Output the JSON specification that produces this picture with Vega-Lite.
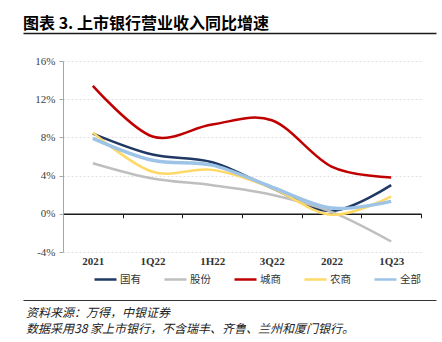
{
  "$schema": "https://vega.github.io/schema/vega-lite/v6.json",
  "padding": {"left": 22, "top": 15, "right": 5, "bottom": 5},
  "background": "white",
  "config": {"view": {"stroke": null}},
  "columns": 1,
  "spacing": 21,
  "concat": [
    {
      "width": 373,
      "height": 0.01,
      "title": {
        "text": "图表 3. 上市银行营业收入同比增速",
        "anchor": "start",
        "frame": "group",
        "dx": -40,
        "font": "Noto Sans CJK SC",
        "fontSize": 16,
        "fontWeight": "bold",
        "color": "#000000",
        "offset": 1
      },
      "data": {"values": [{}]},
      "mark": {"type": "rule", "color": "#1a1a1a"},
      "encoding": {
        "x": {
          "datum": 0,
          "type": "quantitative",
          "scale": {"domain": [0, 1], "range": [-40, 373]},
          "axis": {"orient": "bottom", "title": null, "labels": false, "ticks": false, "grid": false, "domainColor": "#1a1a1a", "domainWidth": 1.5}
        }
      }
    },
    {
      "columns": 1,
      "spacing": 32,
      "concat": [
        {
          "width": 358,
          "height": 191,
          "data": {
            "values": [
              {"类型": "国有", "期间": "2021", "增速": 8.4},
              {"类型": "国有", "期间": "1Q22", "增速": 6.2},
              {"类型": "国有", "期间": "1H22", "增速": 5.4},
              {"类型": "国有", "期间": "3Q22", "增速": 2.7},
              {"类型": "国有", "期间": "2022", "增速": 0.3},
              {"类型": "国有", "期间": "1Q23", "增速": 3.0},
              {"类型": "股份", "期间": "2021", "增速": 5.3},
              {"类型": "股份", "期间": "1Q22", "增速": 3.7},
              {"类型": "股份", "期间": "1H22", "增速": 3.0},
              {"类型": "股份", "期间": "3Q22", "增速": 2.0},
              {"类型": "股份", "期间": "2022", "增速": 0.2},
              {"类型": "股份", "期间": "1Q23", "增速": -2.9},
              {"类型": "城商", "期间": "2021", "增速": 13.4},
              {"类型": "城商", "期间": "1Q22", "增速": 8.1},
              {"类型": "城商", "期间": "1H22", "增速": 9.35},
              {"类型": "城商", "期间": "3Q22", "增速": 9.8},
              {"类型": "城商", "期间": "2022", "增速": 4.95},
              {"类型": "城商", "期间": "1Q23", "增速": 3.8},
              {"类型": "农商", "期间": "2021", "增速": 8.5},
              {"类型": "农商", "期间": "1Q22", "增速": 4.4},
              {"类型": "农商", "期间": "1H22", "增速": 4.6},
              {"类型": "农商", "期间": "3Q22", "增速": 2.7},
              {"类型": "农商", "期间": "2022", "增速": -0.1},
              {"类型": "农商", "期间": "1Q23", "增速": 1.8},
              {"类型": "全部", "期间": "2021", "增速": 7.9},
              {"类型": "全部", "期间": "1Q22", "增速": 5.6},
              {"类型": "全部", "期间": "1H22", "增速": 5.1},
              {"类型": "全部", "期间": "3Q22", "增速": 2.8},
              {"类型": "全部", "期间": "2022", "增速": 0.6},
              {"类型": "全部", "期间": "1Q23", "增速": 1.3}
            ]
          },
          "mark": {"type": "line", "interpolate": "cardinal"},
          "encoding": {
            "x": {
              "field": "期间",
              "type": "nominal",
              "sort": ["2021", "1Q22", "1H22", "3Q22", "2022", "1Q23"],
              "bandPosition": 0.5,
              "scale": {"type": "band", "paddingInner": 0, "paddingOuter": 0},
              "axis": {
                "title": null,
                "offset": -38.2,
                "domainColor": "#1a1a1a",
                "domainWidth": 1.5,
                "tickColor": "#1a1a1a",
                "tickSize": 4,
                "tickWidth": 1,
                "tickBand": "extent",
                "labelAngle": 0,
                "labelPadding": 38,
                "labelFont": "Liberation Serif",
                "labelFontSize": 11,
                "labelFontWeight": "bold",
                "labelColor": "#333333",
                "grid": false
              }
            },
            "y": {
              "field": "增速",
              "type": "quantitative",
              "scale": {"domain": [-4, 16], "nice": false, "zero": false},
              "axis": {
                "title": null,
                "values": [-4, 0, 4, 8, 12, 16],
                "labelExpr": "datum.value + '%'",
                "domainColor": "#a6a6a6",
                "tickColor": "#a6a6a6",
                "tickSize": 4,
                "labelPadding": 4,
                "minExtent": 40,
                "labelFont": "Liberation Serif",
                "labelFontSize": 11,
                "labelColor": "#404040",
                "gridColor": "#d9d9d9",
                "gridDash": [2, 2],
                "gridWidth": 0.8
              }
            },
            "color": {
              "field": "类型",
              "type": "nominal",
              "sort": ["国有", "股份", "城商", "农商", "全部"],
              "scale": {
                "domain": ["国有", "股份", "城商", "农商", "全部"],
                "range": ["#1F3864", "#BFBFBF", "#C00000", "#FFD966", "#9DC3E6"]
              },
              "legend": {
                "orient": "none",
                "legendX": 30,
                "legendY": 234,
                "direction": "horizontal",
                "title": null,
                "symbolType": "stroke",
                "symbolSize": 484,
                "symbolStrokeWidth": 2.5,
                "labelFont": "Noto Sans CJK SC",
                "labelFontSize": 10.5,
                "labelColor": "#333333",
                "labelOffset": 2,
                "columnPadding": 18
              }
            },
            "strokeWidth": {
              "condition": {"test": "datum['类型'] === '全部'", "value": 3.5},
              "value": 2.5
            }
          }
        },
        {
          "width": 373,
          "height": 0.01,
          "title": {
            "text": ["资料来源：万得，中银证券", "数据采用38 家上市银行，不含瑞丰、齐鲁、兰州和厦门银行。"],
            "orient": "bottom",
            "anchor": "start",
            "frame": "group",
            "dx": -37,
            "font": "Noto Sans CJK SC",
            "fontSize": 12,
            "fontStyle": "italic",
            "fontWeight": "normal",
            "color": "#222222",
            "lineHeight": 16.5,
            "offset": 7
          },
          "data": {"values": [{}]},
          "mark": {"type": "rule", "color": "#333333"},
          "encoding": {
            "x": {
              "datum": 0,
              "type": "quantitative",
              "scale": {"domain": [0, 1], "range": [-40, 373]},
              "axis": {"orient": "bottom", "title": null, "labels": false, "ticks": false, "grid": false, "domainColor": "#333333", "domainWidth": 1}
            }
          }
        }
      ]
    }
  ]
}
